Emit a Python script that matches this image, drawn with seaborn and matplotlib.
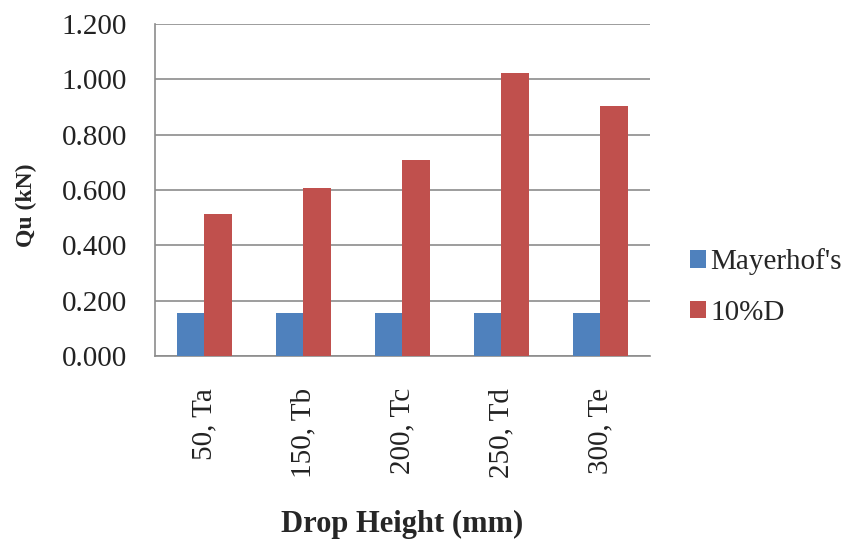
import matplotlib
matplotlib.use("Agg")
import matplotlib.pyplot as plt
import seaborn as sns
import pandas as pd
from matplotlib.ticker import FormatStrFormatter

categories = ["50, Ta", "150, Tb", "200, Tc", "250, Td", "300, Te"]
mayerhof = [0.155, 0.155, 0.155, 0.155, 0.155]
ten_pct_d = [0.515, 0.607, 0.707, 1.023, 0.903]
series_names = ["Mayerhof's", "10%D"]
yticks = [0.0, 0.2, 0.4, 0.6, 0.8, 1.0, 1.2]

df = pd.DataFrame({
    "cat": categories * 2,
    "series": [series_names[0]] * len(categories) + [series_names[1]] * len(categories),
    "val": mayerhof + ten_pct_d,
})

sns.set_theme(style="white")
plt.rcParams["font.family"] = ["Liberation Serif", "DejaVu Serif"]

fig = plt.figure(figsize=(8.45, 5.42), dpi=100)
ax = fig.add_axes([155 / 845, 1 - 356 / 542, (650 - 155) / 845, (356 - 24) / 542])

palette = {series_names[0]: "#4F81BD", series_names[1]: "#C0504D"}
sns.barplot(data=df, x="cat", y="val", hue="series", palette=palette,
            width=0.556, gap=0, saturation=1, ax=ax, zorder=3, linewidth=0)

ax.set_ylim(0, 1.2)
ax.set_yticks(yticks)
ax.yaxis.set_major_formatter(FormatStrFormatter("%.3f"))
ax.grid(axis="y", color="#8c8c8c", linewidth=1.2, zorder=0)
ax.set_axisbelow(True)

for s in ["top", "right"]:
    ax.spines[s].set_visible(False)
for s in ["left", "bottom"]:
    ax.spines[s].set_color("#8c8c8c")
    ax.spines[s].set_linewidth(1.2)

ax.tick_params(axis="y", length=0, pad=20, labelsize=21, labelcolor="#222222")
ax.tick_params(axis="x", length=0, pad=23, labelsize=21, labelcolor="#222222")
plt.setp(ax.get_xticklabels(), rotation=90, va="top", ha="center")

ax.set_xlabel("Drop Height (mm)", fontsize=22, fontweight="bold", va="top")
ax.set_ylabel("Qu (kN)", fontsize=17, fontweight="bold")
ax.yaxis.set_label_coords(-0.238, 0.455)
ax.xaxis.set_label_coords(0.5, -0.465)

leg = ax.legend(loc="center left", bbox_to_anchor=(1.081, 0.208), frameon=False,
                fontsize=21, handlelength=0.55, handleheight=0.55,
                handletextpad=0.15, labelspacing=0.85, borderpad=0,
                borderaxespad=0)

fig.savefig("out.png", dpi=100)
